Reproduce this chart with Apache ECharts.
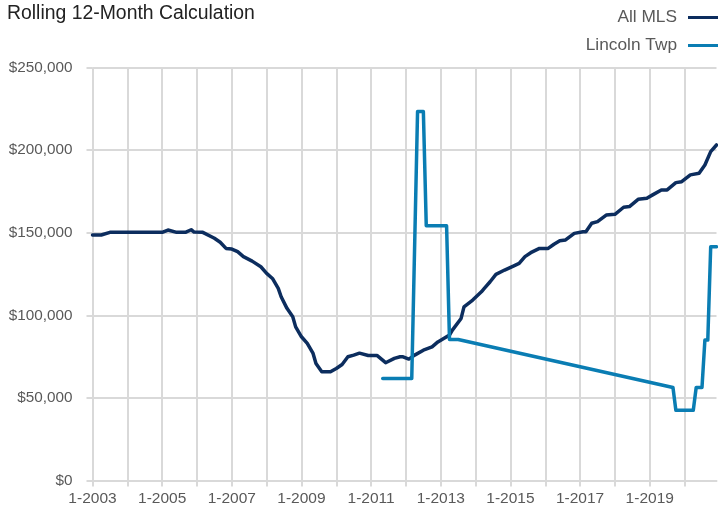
<!DOCTYPE html>
<html>
<head>
<meta charset="utf-8">
<script src="https://cdn.jsdelivr.net/npm/echarts@6/dist/echarts.min.js"></script>
<style>
  html, body { margin: 0; padding: 0; background: #fff; }
  #chart { width: 718px; height: 515px; }
</style>
</head>
<body>
<div id="chart"></div>
<script>
// monthly categories, 1-2003 .. 12-2020
const months = [];
for (let y = 2003; y <= 2020; y++) {
  for (let m = 1; m <= 12; m++) months.push(y + '-' + String(m).padStart(2, '0'));
}

const seriesNames = ['All MLS', 'Lincoln Twp'];

// [month, value]
const allMls = [
  ['2003-01', 148600], ['2003-04', 148600], ['2003-07', 150200], ['2005-01', 150200],
  ['2005-03', 151600], ['2005-06', 150200], ['2005-09', 150200], ['2005-11', 151800],
  ['2005-12', 150400], ['2006-03', 150200], ['2006-07', 146600], ['2006-09', 144200],
  ['2006-11', 140500], ['2007-01', 140100], ['2007-03', 138500], ['2007-05', 135500],
  ['2007-08', 132800], ['2007-11', 129400], ['2008-01', 125400], ['2008-03', 122300],
  ['2008-05', 116300], ['2008-06', 111200], ['2008-08', 104200], ['2008-10', 99100],
  ['2008-11', 93000], ['2009-01', 87000], ['2009-03', 83000], ['2009-05', 76900],
  ['2009-06', 70800], ['2009-08', 65800], ['2009-11', 65800], ['2010-01', 67800],
  ['2010-03', 70200], ['2010-05', 74900], ['2010-07', 75900], ['2010-09', 77100],
  ['2010-12', 75700], ['2011-03', 75700], ['2011-06', 71300], ['2011-09', 73900],
  ['2011-11', 74900], ['2011-12', 74900], ['2012-02', 73500], ['2012-04', 75900],
  ['2012-07', 78900], ['2012-10', 80900], ['2012-12', 83900], ['2013-02', 86000],
  ['2013-04', 88000], ['2013-05', 91000], ['2013-08', 98100], ['2013-09', 105100],
  ['2013-12', 109200], ['2014-03', 114200], ['2014-04', 116300], ['2014-06', 120300],
  ['2014-08', 124800], ['2014-11', 127400], ['2015-02', 129800], ['2015-04', 131400],
  ['2015-06', 135500], ['2015-08', 137900], ['2015-11', 140500], ['2016-02', 140500],
  ['2016-04', 143000], ['2016-06', 145100], ['2016-08', 145600], ['2016-11', 149600],
  ['2017-02', 150600], ['2017-03', 150600], ['2017-05', 155700], ['2017-07', 156700],
  ['2017-10', 160700], ['2018-01', 161100], ['2018-04', 165400], ['2018-06', 165800],
  ['2018-09', 170200], ['2018-12', 170900], ['2019-02', 172900], ['2019-05', 175900],
  ['2019-07', 175900], ['2019-10', 180300], ['2019-12', 180900], ['2020-03', 185000],
  ['2020-06', 186000], ['2020-08', 191000], ['2020-10', 199100], ['2020-12', 203100]
];

const lincolnTwp = [
  ['2011-05', 61700], ['2012-03', 61700], ['2012-05', 223300], ['2012-07', 223300],
  ['2012-08', 154200], ['2013-03', 154200], ['2013-04', 85400], ['2013-07', 85400],
  ['2019-09', 56300], ['2019-10', 42500], ['2020-04', 42500], ['2020-05', 56300],
  ['2020-07', 56300], ['2020-08', 85000], ['2020-09', 85000], ['2020-10', 141500],
  ['2020-12', 141500]
];

const font = '"Liberation Sans", Arial, sans-serif';
const gridColor = '#d9d9d9';

const isJan = (i, v) => v.slice(5) === '01';
const isLabel = (i, v) => isJan(i, v) && (+v.slice(0, 4) - 2003) % 2 === 0;

const chart = echarts.init(document.getElementById('chart'));

const option = {
  animation: false,
  textStyle: { fontFamily: font },
  title: {
    text: 'Rolling 12-Month Calculation',
    left: 2,
    top: -1,
    textStyle: { fontFamily: font, fontSize: 19.4, fontWeight: 'normal', color: '#222' }
  },
  legend: {
    data: seriesNames,
    orient: 'vertical',
    align: 'right',
    right: 0,
    top: 9,
    padding: 0,
    itemWidth: 30,
    itemHeight: 3,
    itemGap: 11,
    icon: 'rect',
    textStyle: { fontFamily: font, fontSize: 17.3, color: '#595959', padding: [0, 6, 0, 0] }
  },
  grid: { left: 92.5, right: 1.5, top: 67.5, bottom: 34.5 },
  xAxis: {
    type: 'category',
    data: months,
    boundaryGap: false,
    axisLine: { show: true, lineStyle: { color: gridColor, width: 2 } },
    axisTick: { show: true, interval: isJan, length: 6, lineStyle: { color: gridColor, width: 2 } },
    splitLine: { show: true, interval: isJan, lineStyle: { color: gridColor, width: 2 } },
    axisLabel: {
      interval: isLabel,
      formatter: v => (+v.slice(5)) + '-' + v.slice(0, 4),
      fontFamily: font,
      fontSize: 15.5,
      color: '#595959',
      margin: 10
    }
  },
  yAxis: {
    type: 'value',
    min: 0,
    max: 250000,
    interval: 50000,
    axisLine: { show: false },
    axisTick: { show: true, length: 6, lineStyle: { color: gridColor, width: 2 } },
    splitLine: { show: true, lineStyle: { color: gridColor, width: 2 } },
    axisLabel: {
      formatter: v => '$' + v.toLocaleString('en-US'),
      fontFamily: font,
      fontSize: 15.3,
      color: '#595959',
      margin: 20
    }
  },
  series: [
    {
      name: seriesNames[0],
      type: 'line',
      data: allMls,
      showSymbol: false,
      color: '#0c2d5e',
      lineStyle: { width: 3.5, join: 'round', cap: 'round' }
    },
    {
      name: seriesNames[1],
      type: 'line',
      data: lincolnTwp,
      showSymbol: false,
      color: '#0a7db3',
      lineStyle: { width: 3.5, join: 'round', cap: 'round' }
    }
  ]
};

chart.setOption(option);
</script>
</body>
</html>
